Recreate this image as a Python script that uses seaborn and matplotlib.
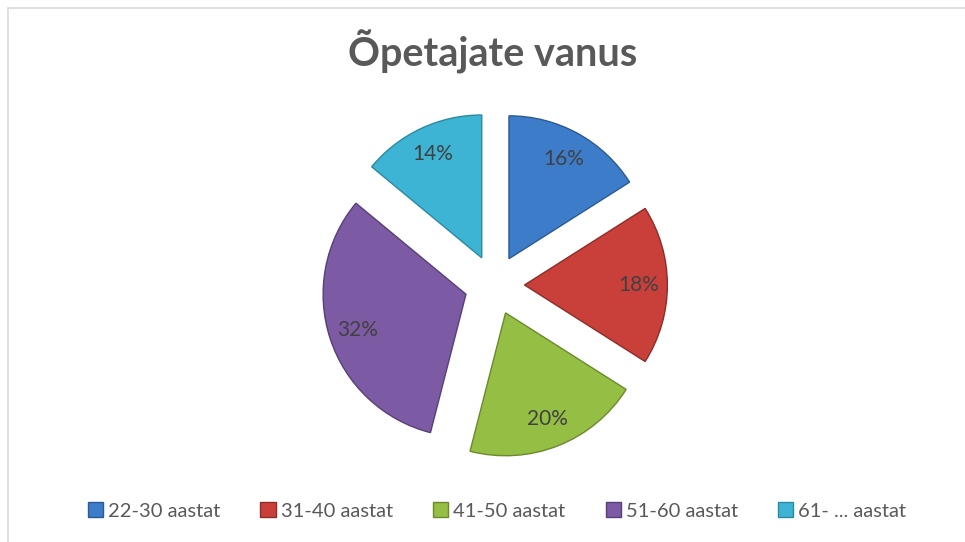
# Õpetajate vanus - exploded pie chart
import matplotlib
matplotlib.use('Agg')
import matplotlib.pyplot as plt
import matplotlib.patches as mpatches
import seaborn as sns

# Data
categories = ['22-30 aastat', '31-40 aastat', '41-50 aastat', '51-60 aastat', '61- ... aastat']
shares = [16, 18, 20, 32, 14]
colors = ['#3D7CC9', '#C9403B', '#95BE45', '#7C5AA4', '#3DB4D3']
edge_colors = ['#2A5A96', '#8E2C28', '#6A8A2C', '#574079', '#2A8AA3']

sns.set_style('white')
plt.rcParams['font.family'] = ['Lato', 'DejaVu Sans']

fig = plt.figure(figsize=(9.65, 5.42), dpi=100)

# chart frame (cut off at right and bottom)
frame = mpatches.Rectangle((8 / 965, -0.1), 1.2, 1 - 8 / 542 + 0.1,
                           transform=fig.transFigure, fill=False,
                           edgecolor='#D9D9D9', linewidth=1.2)
fig.patches.append(frame)

# pie axes: centre ~(494, 285) px, radius ~143 px
ax = fig.add_axes([0.3052, 0.1052, 0.4145, 0.738])
palette = sns.color_palette(colors)
wedges, texts, autotexts = ax.pie(
    shares, colors=palette, startangle=90, counterclock=False,
    explode=[0.21] * len(shares), autopct='%1.0f%%', pctdistance=0.8,
    wedgeprops=dict(linewidth=1.0),
    textprops=dict(fontsize=15, color='#404040'))
for w, ec in zip(wedges, edge_colors):
    w.set_edgecolor(ec)
ax.set_xlim(-1.4, 1.4)
ax.set_ylim(-1.4, 1.4)
ax.set_aspect('equal')
ax.axis('off')

fig.text(0.510, 0.905, 'Õpetajate vanus', ha='center', va='center',
         fontsize=28.5, fontweight='bold', color='#595959')

handles = [mpatches.Patch(facecolor=c, edgecolor=ec, label=l)
           for c, ec, l in zip(colors, edge_colors, categories)]
fig.legend(handles=handles, loc='center', bbox_to_anchor=(0.515, 0.057),
           ncol=5, frameon=False, fontsize=14.5, labelcolor='#595959',
           handlelength=0.75, handleheight=0.75, handletextpad=0.25,
           columnspacing=2.0)

fig.savefig('out.png', dpi=100)
